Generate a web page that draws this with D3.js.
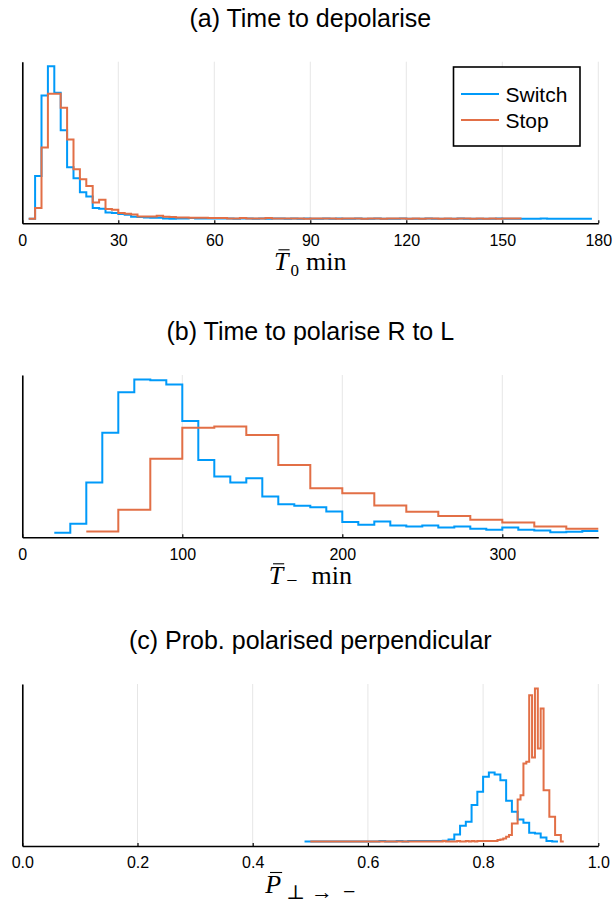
<!DOCTYPE html>
<html>
<head>
<meta charset="utf-8">
<script src="https://cdnjs.cloudflare.com/ajax/libs/d3/7.8.5/d3.min.js"></script>
<style>
body { margin: 0; background: #fff; }
svg { display: block; }
</style>
</head>
<body>
<svg id="chart" width="615" height="902"></svg>
<script>
// (a) time to depolarise, bins of 2 min starting at 2
var aSwitch = [0,129,372,460,380,267,155,122,80,67,32,30,19,17,14,12,6,5,4,3,
	3,1,0,1,1,2,1,1,1,1,
	1,1,0,1,1,0,1,0,1,1, 0,1,0,1,0,0,1,0,1,0, 0,1,0,0,1,0,0,0,1,0,
	0,0,1,0,0,0,0,1,0,0, 0,0,0,1,0,0,0,0,0,0, 1,0,0,0,0,0,0,0]
var aStop = [0,32,215,377,377,335,239,149,119,99,49,57,29,27,17,15,13,7,7,7,
	9,6,5,4,4,3,3,3,2,2,
	2,1,1,2,1,1,1,2,1,1, 1,1,1,0,1,1,1,1,0,1, 1,1,0,1,1,0,1,1,1,0,
	1,0,1,1,0,1,0,1,1,0, 1,0,1,0,1,1,1]
var aTicks = [0,30,60,90,120,150,180]

// (b) time to polarise R to L, switch bins of 10 from 20, stop bins of 20 from 40
var bSwitch = [0,27,151,301,423,461,459,446,336,219,169,151,164,109,86,81,77,64,32,24,
	34,22,19,22,16,19,12,9,16,9,7,1,3,5]
var bStop = [4,69,223,316,320,294,204,134,119,82,63,50,39,31,19,12]
var bTicks = [0,100,200,300]

// (c) prob. polarised perpendicular, switch bins of 0.01 from 0.49, stop bins of 0.005 from 0.50
var cSwitch = [0,0,0,0,0,0,0,0,0,0, 0,0,0,1,0,0,1,0,1,1, 1,
	1,1,1,2,6,21,47,59,109,149,194,207,201,184,122,89,66,56,26,24,12,1,0]
var cStop = [0,0,0,0,0,0,0,0,0,0, 0,0,0,0,0,0,0,0,0,0, 0,0,0,0,0,0,0,0,0,0,
	0,0,0,0,0,0,0,0,0,0, 0,0,0,0,0,0,1,0,0,0, 0,1,0,0,1,0,1,0,1,1, 1,1,1,1,
	1,4,6,9,14,19,54,54,126,139,234,239,439,252,459,279,399,154,154,74,74,19,19,0]
var cTicks = [0,0.2,0.4,0.6,0.8,1.0]

var seriesNames = ["Switch","Stop"]
var blue = "#009af9", orange = "#e26f46"
var x0 = 22.3, x1 = 598.3

var panels = [
	{
		title: "(a) Time to depolarise", top: 61.7, bottom: 223.3,
		domain: [0,180], ticks: aTicks, fmt: d3.format("d"),
		series: [{start: 2, width: 2, values: aSwitch, color: blue}, {start: 2, width: 2, values: aStop, color: orange}],
		label: [{t: "T", italic: true}, {t: "0", sub: 6, dx: 2, size: 17}, {t: "min", dx: 7}],
		legend: true
	},
	{
		title: "(b) Time to polarise R to L", top: 375, bottom: 537.3,
		domain: [0,360], ticks: bTicks, fmt: d3.format("d"),
		series: [{start: 20, width: 10, values: bSwitch, color: blue}, {start: 40, width: 20, values: bStop, color: orange}],
		label: [{t: "T", italic: true}, {t: "\u2212", sub: 3, dx: 3, size: 20}, {t: "min", dx: 14}]
	},
	{
		title: "(c) Prob. polarised perpendicular", top: 684, bottom: 846,
		domain: [0,1], ticks: cTicks, fmt: d3.format(".1f"),
		series: [{start: 0.49, width: 0.01, values: cSwitch, color: blue}, {start: 0.5, width: 0.005, values: cStop, color: orange}],
		label: [{t: "P", italic: true}, {t: "\u22a5", sub: 6, dx: 5, size: 20},
			{t: "\u2192", sub: 6, dx: 6, size: 22}, {t: "\u2212", sub: 6, dx: 10, size: 22}]
	}
]

var svg = d3.select("#chart")

panels.forEach(function(p) {
	var x = d3.scaleLinear().domain(p.domain).range([x0, x1])
	var M = d3.max(p.series, function(s) { return d3.max(s.values) })
	var y = d3.scaleLinear().domain([-0.03 * M, 1.03 * M]).range([p.bottom, p.top])
	var g = svg.append("g")

	g.selectAll("line.grid")
		.data(p.ticks)
		.enter()
		.append("line")
		.attr("class", "grid")
		.attr("x1", function(d) { return x(d) })
		.attr("x2", function(d) { return x(d) })
		.attr("y1", p.top)
		.attr("y2", p.bottom)
		.attr("stroke", "#e6e6e6")
		.attr("stroke-width", 1)

	var line = d3.line()
		.x(function(d) { return x(d[0]) })
		.y(function(d) { return y(d[1]) })
		.curve(d3.curveStepAfter)

	g.selectAll("path.hist")
		.data(p.series)
		.enter()
		.append("path")
		.attr("class", "hist")
		.attr("d", function(s) {
			var pts = s.values.map(function(v, i) { return [s.start + i * s.width, v] })
			pts.push([s.start + s.values.length * s.width, s.values[s.values.length - 1]])
			return line(pts)
		})
		.attr("fill", "none")
		.attr("stroke", function(s) { return s.color })
		.attr("stroke-width", 2)

	var xAxis = g.append("g")
		.attr("transform", "translate(0," + p.bottom + ")")
		.call(d3.axisBottom(x).tickValues(p.ticks).tickFormat(p.fmt)
			.tickSizeInner(-3).tickSizeOuter(0).tickPadding(11))
	xAxis.select(".domain").attr("stroke", "#000").attr("stroke-width", 1.6)
	xAxis.selectAll(".tick line").attr("stroke", "#000").attr("stroke-width", 1.2)
	xAxis.selectAll(".tick text")
		.attr("fill", "#000")
		.style("font-family", "'Liberation Sans', Arial, sans-serif")
		.style("font-size", "16px")

	var yAxis = g.append("g")
		.attr("transform", "translate(" + x0 + ",0)")
		.call(d3.axisLeft(y).tickValues([]).tickSizeOuter(0))
	yAxis.select(".domain").attr("stroke", "#000").attr("stroke-width", 1.6)

	g.append("text")
		.attr("x", (x0 + x1) / 2)
		.attr("y", p.top - 35)
		.attr("text-anchor", "middle")
		.style("font-family", "'Liberation Sans', Arial, sans-serif")
		.style("font-size", "25px")
		.text(p.title)

	var labY = p.bottom + 46.5
	var lab = g.append("text")
		.attr("x", (x0 + x1) / 2)
		.attr("y", labY)
		.attr("text-anchor", "middle")
		.style("font-family", "'Liberation Serif', 'DejaVu Serif', serif")
		.style("font-size", "26px")
	var shift = 0
	p.label.forEach(function(part) {
		var ts = lab.append("tspan").text(part.t)
		if (part.italic) ts.style("font-style", "italic")
		if (part.dx) ts.attr("dx", part.dx)
		var s = part.sub || 0
		if (s !== shift) { ts.attr("dy", s - shift); shift = s }
		if (part.size) ts.style("font-size", part.size + "px")
	})
	// macron over the leading variable letter
	var ext = lab.node().getExtentOfChar(0)
	g.append("line")
		.attr("x1", ext.x + ext.width * 0.3)
		.attr("x2", ext.x + ext.width + 1)
		.attr("y1", labY - 20)
		.attr("y2", labY - 20)
		.attr("stroke", "#000")
		.attr("stroke-width", 1.1)

	if (p.legend) {
		var lg = g.append("g").attr("transform", "translate(453.5,67)")
		lg.append("rect")
			.attr("width", 126.5)
			.attr("height", 79)
			.attr("fill", "#fff")
			.attr("stroke", "#000")
			.attr("stroke-width", 1.6)
		var items = lg.selectAll("g.item")
			.data(p.series)
			.enter()
			.append("g")
			.attr("transform", function(d, i) { return "translate(0," + (27 + i * 26) + ")" })
		items.append("line")
			.attr("x1", 7.5).attr("x2", 45.5)
			.attr("stroke", function(d) { return d.color })
			.attr("stroke-width", 2)
		items.append("text")
			.attr("x", 52)
			.attr("dy", "0.36em")
			.style("font-family", "'Liberation Sans', Arial, sans-serif")
			.style("font-size", "21px")
			.text(function(d, i) { return seriesNames[i] })
	}
})
</script>
</body>
</html>
